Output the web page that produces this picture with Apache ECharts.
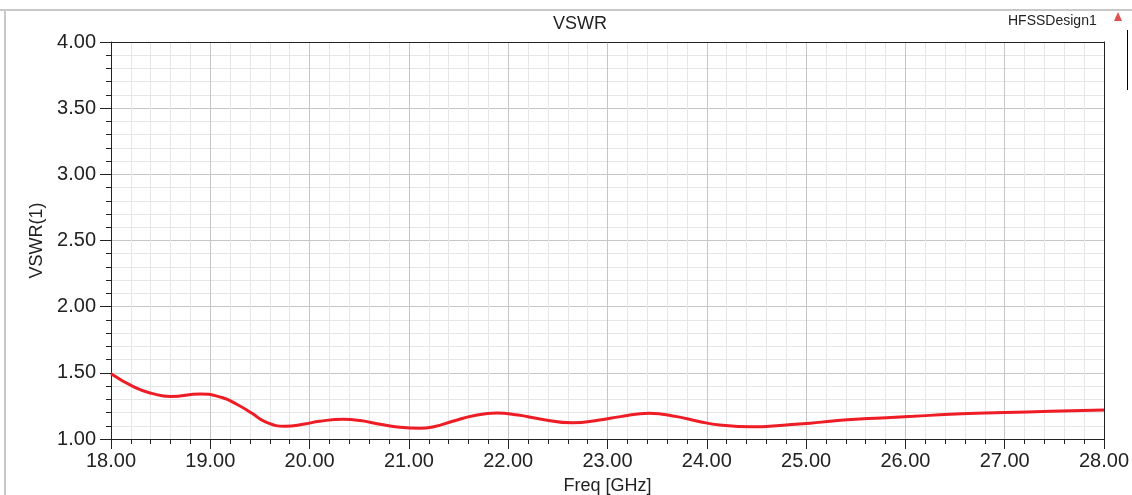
<!DOCTYPE html>
<html>
<head>
<meta charset="utf-8">
<script src="https://cdn.jsdelivr.net/npm/echarts@6/dist/echarts.min.js"></script>
<style>
  html, body { margin: 0; padding: 0; background: #fff; }
  #chart { width: 1132px; height: 495px; }
</style>
</head>
<body>
<div id="chart"></div>
<script>
// frequency points in GHz and VSWR
const freq = [18.0, 18.24, 18.41, 18.6, 18.9, 19.11, 19.28, 19.42, 19.55, 19.75,
  19.95, 20.1, 20.34, 20.51, 20.71, 20.91, 21.11, 21.25, 21.45, 21.65, 21.88,
  22.1, 22.32, 22.65, 22.92, 23.13, 23.42, 23.7, 23.93, 24.13, 24.45,
  24.8, 25.04, 25.27, 25.54, 25.81, 26.08, 26.45, 27.0, 27.46, 28.0];
const vswr = [1.493, 1.39, 1.345, 1.322, 1.34, 1.315, 1.257, 1.194, 1.131, 1.096,
  1.113, 1.134, 1.149, 1.139, 1.111, 1.088, 1.081, 1.093, 1.136, 1.176, 1.196,
  1.181, 1.151, 1.122, 1.144, 1.169, 1.195, 1.169, 1.131, 1.106, 1.092,
  1.106, 1.119, 1.136, 1.151, 1.161, 1.171, 1.187, 1.200, 1.209, 1.219];

const chart = echarts.init(document.getElementById('chart'));
const font = 'Liberation Sans, Arial, sans-serif';

chart.setOption({
  animation: false,
  title: {
    text: 'VSWR',
    left: 548,
    top: 10,
    textStyle: { fontFamily: font, fontSize: 18, fontWeight: 'normal', color: '#222' }
  },
  graphic: [
    { type: 'rect', shape: { x: 0, y: 9, width: 1132, height: 2 }, style: { fill: '#c8c8c8' } },
    { type: 'rect', shape: { x: 4, y: 9, width: 2, height: 486 }, style: { fill: '#c8c8c8' } },
    { type: 'text', left: 1008, top: 14, style: { text: 'HFSSDesign1', fontFamily: font, fontSize: 14, fill: '#222' } },
    { type: 'polygon', shape: { points: [[1118, 12], [1114, 21], [1122, 21]] }, style: { fill: '#e05050' } },
    { type: 'rect', shape: { x: 1127, y: 30, width: 1, height: 60 }, style: { fill: '#000' } }
  ],
  grid: { left: 111, right: 28, top: 42, bottom: 56, outerBoundsMode: 'none', containLabel: false },
  xAxis: [{
    type: 'value',
    min: 18, max: 28, interval: 1,
    name: 'Freq [GHz]',
    nameLocation: 'middle',
    nameGap: 38,
    nameTextStyle: { fontFamily: font, fontSize: 18, color: '#222' },
    axisLine: { onZero: false, lineStyle: { color: '#222', width: 1 } },
    axisTick: { show: true, length: 10, lineStyle: { color: '#222' } },
    minorTick: { show: true, splitNumber: 5, length: 5, lineStyle: { color: '#222' } },
    axisLabel: {
      margin: 12, fontFamily: font, fontSize: 20, color: '#222',
      formatter: v => v.toFixed(2)
    },
    splitLine: { show: true, lineStyle: { color: '#c6c6c6', width: 1 } },
    minorSplitLine: { show: true, lineStyle: { color: '#e6e6e6', width: 1 } }
  }, {
    type: 'value', position: 'top', min: 18, max: 28,
    axisLine: { show: true, lineStyle: { color: '#222' } },
    axisTick: { show: false }, axisLabel: { show: false }, splitLine: { show: false }
  }],
  yAxis: [{
    type: 'value',
    min: 1, max: 4, interval: 0.5,
    name: 'VSWR(1)',
    nameLocation: 'middle',
    nameGap: 64,
    nameTextStyle: { fontFamily: font, fontSize: 18, color: '#222' },
    axisLine: { show: true, lineStyle: { color: '#222', width: 1 } },
    axisTick: { show: true, length: 11, lineStyle: { color: '#222' } },
    minorTick: { show: true, splitNumber: 5, length: 5, lineStyle: { color: '#222' } },
    axisLabel: {
      margin: 15, fontFamily: font, fontSize: 20, color: '#222',
      formatter: v => v.toFixed(2)
    },
    splitLine: { show: true, lineStyle: { color: '#c6c6c6', width: 1 } },
    minorSplitLine: { show: true, lineStyle: { color: '#e6e6e6', width: 1 } }
  }, {
    type: 'value', position: 'right', min: 1, max: 4,
    axisLine: { show: true, lineStyle: { color: '#222' } },
    axisTick: { show: false }, axisLabel: { show: false }, splitLine: { show: false }
  }],
  series: [{
    type: 'line',
    data: freq.map((f, i) => [f, vswr[i]]),
    smooth: 0.5,
    symbol: 'none',
    lineStyle: { color: '#ee1c25', width: 3 }
  }]
});
</script>
</body>
</html>
